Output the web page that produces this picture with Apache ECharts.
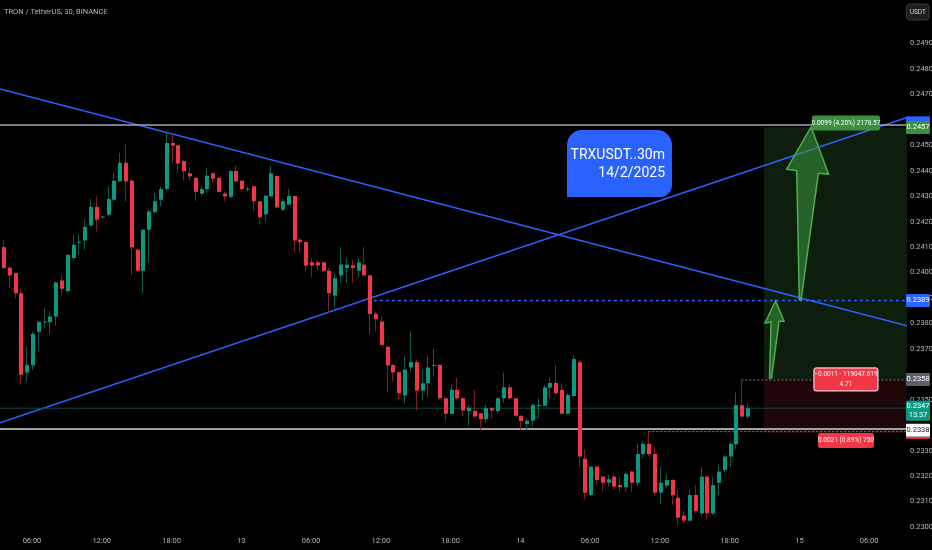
<!DOCTYPE html>
<html>
<head>
<meta charset="utf-8">
<script src="https://cdn.jsdelivr.net/npm/echarts@6/dist/echarts.min.js"></script>
<style>
html,body{margin:0;padding:0;background:#000;}
#c{width:932px;height:550px;}
</style>
</head>
<body>
<div id="c"></div>
<script>
// ---- data (30m candles, 12 Feb 03:30 -> 14 Feb 19:30) ----
const opens = [0.24100,0.24019,0.23998,0.23919,0.23607,0.23636,0.23767,0.23805,0.23805,0.23827,0.23969,0.23927,0.24057,0.24119,0.24126,0.24185,0.24258,0.24217,0.24227,0.24286,0.24358,0.24431,0.24361,0.24090,0.24007,0.24168,0.24238,0.24286,0.24328,0.24509,0.24500,0.24438,0.24390,0.24372,0.24310,0.24328,0.24390,0.24372,0.24310,0.24298,0.24399,0.24361,0.24327,0.24339,0.24280,0.24229,0.24299,0.24379,0.24247,0.24267,0.24301,0.24129,0.24120,0.24040,0.24040,0.24040,0.24007,0.23909,0.23989,0.24018,0.24028,0.24007,0.24031,0.23989,0.23838,0.23808,0.23708,0.23637,0.23608,0.23517,0.23627,0.23648,0.23536,0.23565,0.23635,0.23637,0.23506,0.23445,0.23539,0.23506,0.23456,0.23456,0.23447,0.23424,0.23467,0.23456,0.23506,0.23549,0.23506,0.23437,0.23405,0.23418,0.23477,0.23477,0.23548,0.23566,0.23539,0.23445,0.23515,0.23648,0.23268,0.23126,0.23237,0.23198,0.23174,0.23198,0.23165,0.23156,0.23218,0.23174,0.23287,0.23327,0.23287,0.23135,0.23163,0.23185,0.23115,0.23045,0.23025,0.23126,0.23054,0.23198,0.23054,0.23174,0.23224,0.23277,0.23325,0.23479,0.23434];
const closes = [0.24018,0.23989,0.23919,0.23598,0.23637,0.23759,0.23806,0.23808,0.23827,0.23961,0.23936,0.24069,0.24109,0.24121,0.24179,0.24258,0.24208,0.24220,0.24289,0.24361,0.24431,0.24358,0.24099,0.24007,0.24168,0.24240,0.24280,0.24328,0.24509,0.24499,0.24428,0.24398,0.24378,0.24317,0.24328,0.24381,0.24369,0.24317,0.24299,0.24399,0.24358,0.24328,0.24330,0.24280,0.24218,0.24302,0.24390,0.24256,0.24280,0.24301,0.24126,0.24119,0.24027,0.24028,0.24028,0.24007,0.23919,0.23978,0.24031,0.24031,0.24018,0.24040,0.23989,0.23837,0.23817,0.23716,0.23635,0.23607,0.23526,0.23618,0.23648,0.23536,0.23565,0.23627,0.23637,0.23506,0.23445,0.23539,0.23506,0.23458,0.23469,0.23434,0.23424,0.23467,0.23458,0.23506,0.23549,0.23506,0.23437,0.23417,0.23418,0.23480,0.23480,0.23549,0.23566,0.23526,0.23445,0.23519,0.23660,0.23277,0.23135,0.23237,0.23185,0.23174,0.23188,0.23159,0.23156,0.23209,0.23174,0.23287,0.23327,0.23286,0.23135,0.23174,0.23185,0.23125,0.23037,0.23025,0.23126,0.23063,0.23198,0.23054,0.23165,0.23218,0.23277,0.23327,0.23479,0.23434,0.23467];
const lows = [0.24011,0.23939,0.23900,0.23559,0.23572,0.23618,0.23690,0.23782,0.23759,0.23792,0.23910,0.23919,0.24048,0.24070,0.24090,0.24181,0.24162,0.24214,0.24223,0.24280,0.24356,0.24280,0.23991,0.24001,0.23919,0.24040,0.24231,0.24260,0.24326,0.24431,0.24391,0.24362,0.24362,0.24282,0.24302,0.24313,0.24352,0.24315,0.24280,0.24293,0.24355,0.24319,0.24319,0.24240,0.24188,0.24200,0.24298,0.24254,0.24240,0.24264,0.24079,0.24079,0.24008,0.23981,0.24008,0.24004,0.23841,0.23860,0.23959,0.23959,0.23959,0.23981,0.23985,0.23759,0.23768,0.23713,0.23528,0.23572,0.23497,0.23486,0.23611,0.23458,0.23497,0.23509,0.23591,0.23500,0.23418,0.23442,0.23497,0.23434,0.23397,0.23431,0.23382,0.23408,0.23427,0.23447,0.23489,0.23500,0.23434,0.23382,0.23382,0.23395,0.23427,0.23475,0.23506,0.23519,0.23442,0.23442,0.23509,0.23237,0.23109,0.23122,0.23165,0.23139,0.23159,0.23148,0.23139,0.23139,0.23139,0.23159,0.23270,0.23279,0.23126,0.23090,0.23152,0.23087,0.23008,0.23017,0.23022,0.23054,0.23041,0.23028,0.23047,0.23126,0.23214,0.23235,0.23306,0.23432,0.23424];
const highs = [0.24129,0.24027,0.24000,0.23936,0.23709,0.23768,0.23809,0.23860,0.23850,0.23965,0.23990,0.24071,0.24149,0.24151,0.24210,0.24289,0.24299,0.24223,0.24339,0.24391,0.24470,0.24503,0.24372,0.24096,0.24170,0.24247,0.24313,0.24339,0.24551,0.24542,0.24503,0.24444,0.24411,0.24374,0.24339,0.24411,0.24392,0.24374,0.24319,0.24401,0.24420,0.24363,0.24339,0.24341,0.24282,0.24305,0.24420,0.24382,0.24289,0.24328,0.24303,0.24136,0.24122,0.24057,0.24050,0.24042,0.24018,0.23998,0.24100,0.24057,0.24050,0.24057,0.24100,0.23991,0.23848,0.23827,0.23716,0.23640,0.23611,0.23670,0.23768,0.23657,0.23618,0.23670,0.23699,0.23640,0.23509,0.23559,0.23587,0.23509,0.23480,0.23539,0.23450,0.23480,0.23473,0.23509,0.23607,0.23559,0.23509,0.23439,0.23427,0.23486,0.23506,0.23559,0.23587,0.23637,0.23565,0.23526,0.23677,0.23657,0.23307,0.23240,0.23240,0.23201,0.23205,0.23205,0.23198,0.23218,0.23220,0.23327,0.23338,0.23375,0.23316,0.23237,0.23207,0.23188,0.23146,0.23064,0.23146,0.23165,0.23235,0.23201,0.23198,0.23247,0.23283,0.23336,0.23528,0.23578,0.23487];

// time slots of the x axis (30 minute bars, incl. empty future space)
const startDay = 12, startMinutes = 3 * 60 + 30, slotCount = 156;
const categories = [];
for (let i = 0; i < slotCount; i++) {
  const m = startMinutes + 30 * i;
  const d = startDay + Math.floor(m / 1440);
  const mm = m % 1440;
  categories.push(d + ' ' + String(Math.floor(mm / 60)).padStart(2, '0') + ':' + String(mm % 60).padStart(2, '0'));
}
const tickSlots  = ['12 06:00','12 12:00','12 18:00','13 00:00','13 06:00','13 12:00','13 18:00','14 00:00','14 06:00','14 12:00','14 18:00','15 00:00','15 06:00'];
const tickLabels = ['06:00','12:00','18:00','13','06:00','12:00','18:00','14','06:00','12:00','18:00','15','06:00'];
const priceTicks = ['0.2300','0.2310','0.2320','0.2330','0.2350','0.2370','0.2380','0.2390','0.2400','0.2410','0.2420','0.2430','0.2440','0.2450','0.2470','0.2480','0.2490'];
const priceMin = 0.229884, priceMax = 0.250709;

// drawings (value-x = slot index)
const trendDown = [[-0.5, 0.24721], [155.5, 0.23791]];
const trendUp   = [[-0.5, 0.23410], [155.5, 0.24609]];
const resistance = 0.2458, support = 0.23385, lastPrice = 0.23467;
const breakLevel = 0.2389, breakFrom = 63.8;
const highMark1 = 0.23375, highMark1From = 111;
const highMark2 = 0.23578, highMark2From = 127;
const posFrom = 130.9, posTo = 155.5, entry = 0.2358, target = 0.2457, stop = 0.2337;
const bigArrow = [[139.0,0.24572],[142.0,0.24387],[140.25,0.24390],[137.27,0.23892],[136.98,0.23892],[136.53,0.24400],[134.81,0.24406]];
const smallArrow = [[132.89,0.23888],[134.35,0.23809],[133.49,0.23809],[132.2,0.23586],[131.86,0.23586],[132.12,0.23806],[131.08,0.23802]];

const UP = '#089981', DOWN = '#f23645', WICK_UP = '#0b5e4f', WICK_DOWN = '#7c1f27';
const FONT = "Roboto,'Liberation Sans',sans-serif";

const candleData = opens.map((o, i) => [i, o, closes[i], lows[i], highs[i]]);

function renderCandle(params, api) {
  const i = api.value(0), o = api.value(1), c = api.value(2), l = api.value(3), h = api.value(4);
  const pO = api.coord([i, o]), pC = api.coord([i, c]), pL = api.coord([i, l]), pH = api.coord([i, h]);
  const up = c >= o;
  const x = Math.round(pO[0]) + 0.5;
  const w = 4;
  const top = Math.min(pO[1], pC[1]), bot = Math.max(pO[1], pC[1]);
  return {
    type: 'group',
    children: [
      { type: 'line', shape: { x1: x, y1: pH[1], x2: x, y2: pL[1] }, style: { stroke: up ? WICK_UP : WICK_DOWN, lineWidth: 1 } },
      { type: 'rect', shape: { x: Math.round(x - w / 2), y: top, width: w, height: Math.max(bot - top, 1) }, style: { fill: up ? UP : DOWN } }
    ]
  };
}

function hLine(p, from) { return [[from == null ? -0.5 : from, p], [155.5, p]]; }
function lineSeries(name, data, color, width, type, extra) {
  return Object.assign({
    name, type: 'line', xAxisIndex: 1, yAxisIndex: 0, data, symbol: 'none', silent: true,
    animation: false, lineStyle: { color, width, type: type || 'solid' }, z: 3
  }, extra || {});
}

const chart = echarts.init(document.getElementById('c'), null, { renderer: 'canvas' });
chart.setOption({
  backgroundColor: '#000000',
  animation: false,
  grid: { left: 0, right: 25, top: 0, bottom: 20, containLabel: false, outerBoundsMode: 'none' },
  xAxis: [{
    type: 'category', data: categories, boundaryGap: true,
    axisLine: { show: false }, axisTick: { show: false }, splitLine: { show: false },
    axisLabel: {
      color: '#b2b5be', fontSize: 7.5, fontFamily: FONT, margin: 7,
      interval: (idx, val) => tickSlots.indexOf(val) >= 0,
      formatter: (val) => { const k = tickSlots.indexOf(val); return k >= 0 ? tickLabels[k] : ''; }
    }
  }, {
    type: 'value', min: -0.5, max: 155.5, show: false
  }],
  yAxis: [{
    type: 'value', position: 'right', min: priceMin, max: priceMax, splitNumber: 20,
    minInterval: 0.001, maxInterval: 0.001,
    axisLine: { show: false }, axisTick: { show: false }, splitLine: { show: false },
    axisLabel: {
      color: '#b2b5be', fontSize: 7.5, fontFamily: FONT, margin: 3, showMinLabel: false, showMaxLabel: false,
      formatter: (v) => { const s = v.toFixed(4); return priceTicks.indexOf(s) >= 0 ? s : ''; }
    }
  }],
  series: [
    { type: 'custom', name: 'TRXUSDT', xAxisIndex: 0, yAxisIndex: 0, data: candleData, renderItem: renderCandle,
      encode: { x: 0, y: [1, 2, 3, 4] }, clip: true, z: 5 },
    lineSeries('trendDown', trendDown, '#2962ff', 1.5, 'solid', {
      markArea: {
        silent: true,
        data: [
          [{ xAxis: posFrom, yAxis: target, itemStyle: { color: 'rgba(76,175,80,0.17)' } }, { xAxis: posTo, yAxis: entry }],
          [{ xAxis: posFrom, yAxis: entry, itemStyle: { color: 'rgba(242,54,69,0.13)' } }, { xAxis: posTo, yAxis: stop }]
        ]
      }
    }),
    lineSeries('trendUp', trendUp, '#2962ff', 1.5),
    lineSeries('resistance', hLine(resistance), '#a3a6af', 1.5),
    lineSeries('support', hLine(support), '#a0a0a0', 2),
    lineSeries('last', hLine(lastPrice), '#0b4d40', 1),
    lineSeries('break', hLine(breakLevel, breakFrom), '#2962ff', 1.5, [3, 3]),
    lineSeries('high1', hLine(highMark1, highMark1From), '#787b86', 1, [2, 2]),
    lineSeries('high2', hLine(highMark2, highMark2From), '#787b86', 1, [2, 2])
  ]
});

// ---- annotations ----
function px(pt) { return chart.convertToPixel({ seriesIndex: 1 }, pt); }
function py(p) { return chart.convertToPixel({ yAxisIndex: 0 }, p); }
const g = [];
function tag(p, lines, bg, fg, opt) {
  opt = opt || {};
  const h = opt.h || 13, y = py(p) + (opt.dy || 0);
  g.push({ type: 'rect', z: 100, shape: { x: 906, y: y - h / 2, width: 24, height: h, r: 1 }, style: { fill: bg } });
  if (opt.underline) g.push({ type: 'rect', z: 100, shape: { x: 906, y: y + h / 2, width: 24, height: 2 }, style: { fill: opt.underline } });
  lines.forEach((t, k) => {
    g.push({ type: 'text', z: 101, style: { text: t, x: 918, y: y - (lines.length - 1) * 4.5 + k * 9, align: 'center', verticalAlign: 'middle', fill: fg, font: '7.5px ' + FONT } });
  });
}
function boxLabel(cx, cy, w, h, lines, bg, border) {
  g.push({ type: 'rect', z: 100, shape: { x: cx - w / 2, y: cy - h / 2, width: w, height: h, r: 2 }, style: { fill: bg, stroke: border || null, lineWidth: border ? 1 : 0 } });
  lines.forEach((t, k) => {
    g.push({ type: 'text', z: 101, style: { text: t, x: cx, y: cy - (lines.length - 1) * 5 + k * 10, align: 'center', verticalAlign: 'middle', fill: '#ffffff', font: '6.5px ' + FONT } });
  });
}
function arrow(pts) {
  g.push({ type: 'polygon', z: 90, shape: { points: pts.map(px) }, style: { fill: 'rgba(56,142,60,0.62)', stroke: '#4caf50', lineWidth: 1.5 } });
}
arrow(bigArrow);
arrow(smallArrow);

// position tool labels
const tx = px([145.0, target])[0];
boxLabel(tx, py(target) - 4.5, 68, 15, ['0.0099 (4.20%) 2178.57'], '#3b8f3f');
boxLabel(tx, py(entry), 64, 23, ['\u22120.0011 - 119047.619', '4.71'], '#f23645', '#ffffff');
boxLabel(tx, py(stop) + 7.5, 56, 15, ['0.0021 (0.89%) 750'], '#f23645');

// price scale tags
g.push({ type: 'rect', z: 99, shape: { x: 906, y: py(0.2460) - 3.5, width: 24, height: 6 }, style: { fill: '#2962ff' } });
tag(target, ['0.2457'], '#3b8f3f', '#ffffff');
tag(breakLevel, ['0.2389'], '#2962ff', '#ffffff');
tag(entry, ['0.2358'], '#5d606b', '#ffffff');
tag(lastPrice, ['0.2347', '13:37'], '#089981', '#ffffff', { h: 20, dy: 2.5 });
tag(0.2338, ['0.2338'], '#ffffff', '#131722', { underline: '#f23645' });

// currency box
g.push({ type: 'rect', z: 100, shape: { x: 906.5, y: 4, width: 22.5, height: 16, r: 3 }, style: { fill: '#1e1e1e', stroke: '#3a3a3a', lineWidth: 1 } });
g.push({ type: 'text', z: 101, style: { text: 'USDT', x: 917.75, y: 12, align: 'center', verticalAlign: 'middle', fill: '#d1d4dc', font: '6.5px ' + FONT } });

// title
g.push({ type: 'text', z: 101, style: { text: 'TRON / TetherUS, 30, BINANCE', x: 4, y: 12, verticalAlign: 'middle', fill: '#b2b5be', font: '7.5px ' + FONT } });

// note box
g.push({ type: 'rect', z: 100, shape: { x: 567, y: 130, width: 105, height: 67, r: [15, 15, 12, 0] }, style: { fill: '#2962ff' } });
g.push({ type: 'text', z: 101, style: { text: 'TRXUSDT..30m', x: 665, y: 155, align: 'right', verticalAlign: 'middle', fill: '#ffffff', font: '14px ' + FONT } });
g.push({ type: 'text', z: 101, style: { text: '14/2/2025', x: 665, y: 173, align: 'right', verticalAlign: 'middle', fill: '#ffffff', font: '14px ' + FONT } });

chart.setOption({ graphic: g });
</script>
</body>
</html>
